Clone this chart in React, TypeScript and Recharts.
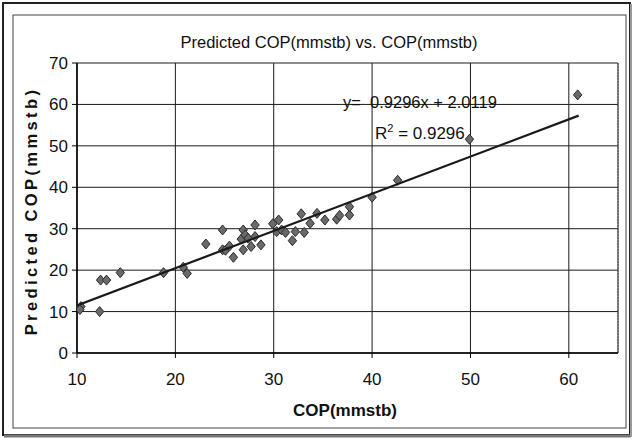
import React from "react";
import {
  ScatterChart,
  Scatter,
  XAxis,
  YAxis,
  CartesianGrid,
  ReferenceLine,
} from "recharts";

// COP (mmstb) — measured
const copX: number[] = [
  10.4, 10.3, 12.3, 12.4, 13.0, 14.4, 18.8, 20.8, 21.2, 23.1, 24.8, 24.8, 25.1,
  25.5, 25.9, 26.9, 26.9, 26.7, 27.1, 27.4, 27.7, 28.1, 28.1, 28.7, 29.9, 30.3,
  30.5, 30.8, 31.2, 31.9, 32.2, 32.8, 33.1, 33.7, 34.4, 35.2, 36.4, 36.7, 37.7,
  37.7, 40.0, 42.6, 49.9, 60.9,
];
// Predicted COP (mmstb)
const predY: number[] = [
  11.2, 10.5, 10.0, 17.6, 17.6, 19.4, 19.4, 20.7, 19.2, 26.3, 29.7, 24.9, 24.8,
  25.8, 23.1, 24.9, 29.7, 27.5, 28.5, 27.7, 25.7, 30.9, 28.1, 26.1, 31.2, 29.3,
  32.1, 29.7, 29.1, 27.1, 29.3, 33.6, 29.1, 31.3, 33.7, 32.1, 32.3, 33.2, 33.3,
  35.3, 37.6, 41.7, 51.6, 62.3,
];

// Trend line end points as drawn
const trendX: number[] = [10, 61];
const trendY: number[] = [11.5, 57.3];

const xTicks: number[] = [10, 20, 30, 40, 50, 60];
const yTicks: number[] = [0, 10, 20, 30, 40, 50, 60, 70];

const points = copX.map((x, i) => ({ x, y: predY[i] }));
const trend = trendX.map((x, i) => ({ x, y: trendY[i] }));

const FONT = "'Liberation Sans Narrow', 'Arial Narrow', 'Liberation Sans', Arial, sans-serif";

const Diamond = (props: any) => {
  const { cx, cy } = props;
  if (cx == null || cy == null) return null;
  const w = 4.2;
  const h = 5;
  return (
    <polygon
      points={`${cx},${cy - h} ${cx + w},${cy} ${cx},${cy + h} ${cx - w},${cy}`}
      fill="#6a6a6a"
      stroke="#2a2a2a"
      strokeWidth={1}
    />
  );
};

export default function App() {
  return (
    <div style={{ position: "absolute", left: 0, top: 0, width: 633, height: 440, background: "#fff" }}>
      <svg
        width={633}
        height={440}
        style={{ position: "absolute", left: 0, top: 0 }}
      >
        <rect x={3} y={3} width={627} height={432} fill="none" stroke="#222" strokeWidth={2} />
        <line x1={4} y1={436} x2={631} y2={436} stroke="#777" strokeWidth={3} />
        <line x1={631} y1={4} x2={631} y2={437} stroke="#999" strokeWidth={2} />
        <rect x={13} y={15} width={613} height={413} fill="none" stroke="#444" strokeWidth={1} />
      </svg>
      <div style={{ position: "absolute", left: 0, top: 0 }}>
        <ScatterChart
          width={633}
          height={440}
          margin={{ top: 63, right: 15, bottom: 27, left: 17 }}
        >
          <CartesianGrid stroke="#1a1a1a" strokeWidth={1} />
          <XAxis
            type="number"
            dataKey="x"
            domain={[10, 65]}
            ticks={xTicks}
            allowDataOverflow
            height={60}
            axisLine={{ stroke: "#000", strokeWidth: 1.5 }}
            tickLine={{ stroke: "#000" }}
            tickSize={5}
            tickMargin={15}
            tick={{ fill: "#111", fontSize: 17, fontFamily: FONT }}
          />
          <YAxis
            type="number"
            dataKey="y"
            domain={[0, 70]}
            ticks={yTicks}
            allowDataOverflow
            width={60}
            axisLine={{ stroke: "#000", strokeWidth: 1.5 }}
            tickLine={{ stroke: "#000" }}
            tickSize={5}
            tickMargin={4}
            tick={{ fill: "#111", fontSize: 17, fontFamily: FONT }}
          />
          <ReferenceLine x={65} stroke="#555" strokeDasharray="2 1" />
          <Scatter
            data={points}
            shape={<Diamond />}
            isAnimationActive={false}
          />
          <Scatter
            data={trend}
            line={{ stroke: "#1a1a1a", strokeWidth: 2.2 }}
            shape={() => null}
            isAnimationActive={false}
          />
        </ScatterChart>
      </div>
      <svg
        width={633}
        height={440}
        style={{ position: "absolute", left: 0, top: 0, pointerEvents: "none" }}
      >
        <text x={329} y={48} textAnchor="middle" fontFamily={FONT} fontSize={16.5} fill="#111">
          Predicted COP(mmstb) vs. COP(mmstb)
        </text>
        <text
          x={37}
          y={211}
          textAnchor="middle"
          transform="rotate(-90 37 211)"
          fontFamily="'Liberation Sans', Arial, sans-serif"
          fontWeight="bold"
          fontSize={16.5}
          letterSpacing={3.4}
          fill="#111"
        >
          Predicted COP(mmstb)
        </text>
        <text x={345} y={416} textAnchor="middle" fontFamily={FONT} fontWeight="bold" fontSize={17} fill="#111">
          COP(mmstb)
        </text>
        <text x={343} y={108} fontFamily={FONT} fontSize={16.5} fill="#111" xmlSpace="preserve">
          {"y=  0.9296x + 2.0119"}
        </text>
        <text x={375} y={139} fontFamily={FONT} fontSize={17} fill="#111">
          R<tspan dy={-7} fontSize={11}>2</tspan>
          <tspan dy={7}> = 0.9296</tspan>
        </text>
      </svg>
    </div>
  );
}
